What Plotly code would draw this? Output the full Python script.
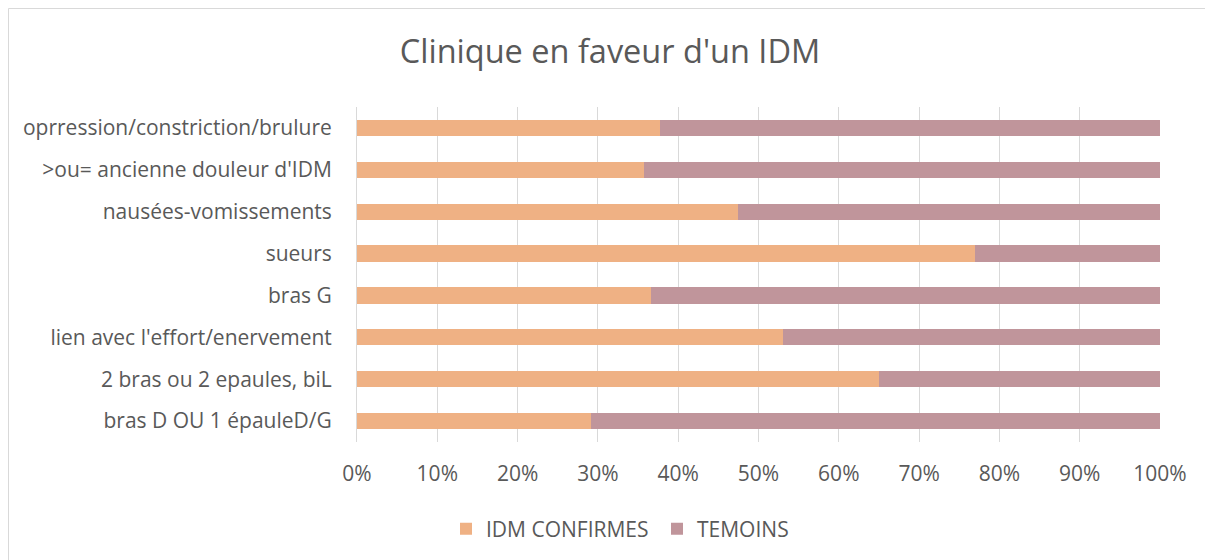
import plotly.graph_objects as go

categories = [
    "bras D OU 1 épauleD/G",
    "2 bras ou 2 epaules, biL",
    "lien avec l'effort/enervement",
    "bras G",
    "sueurs",
    "nausées-vomissements",
    ">ou= ancienne douleur d'IDM",
    "oprression/constriction/brulure",
]
idm_confirmes = [29.1, 65.0, 53.0, 36.6, 76.9, 47.4, 35.7, 37.7]
temoins = [70.9, 35.0, 47.0, 63.4, 23.1, 52.6, 64.3, 62.3]
x_ticks = [0, 10, 20, 30, 40, 50, 60, 70, 80, 90, 100]
x_tick_labels = [f"{v}%" for v in x_ticks]

# page body has an 8px margin; figure coordinates are page coordinates minus 8
W, H = 1205, 552
L, R, T, B = 349, 1152, 99, 434
pw = R - L
ph = B - T

font_family = "Open Sans, Liberation Sans, sans-serif"
grey = "#595959"

fig = go.Figure()
fig.add_trace(go.Bar(y=categories, x=idm_confirmes, name="IDM CONFIRMES",
                     orientation="h", legend="legend",
                     marker=dict(color="#EFB184", line=dict(width=0))))
fig.add_trace(go.Bar(y=categories, x=temoins, name="TEMOINS",
                     orientation="h", legend="legend2",
                     marker=dict(color="#C0959B", line=dict(width=0))))

legend_common = dict(orientation="h", xanchor="left", yanchor="middle",
                     yref="container", y=1 - 521 / H,
                     font=dict(size=21, color=grey, family=font_family),
                     bgcolor="rgba(0,0,0,0)", itemwidth=30)

fig.update_layout(
    width=W, height=H,
    barmode="stack",
    bargap=0.61,
    paper_bgcolor="white",
    plot_bgcolor="white",
    margin=dict(l=L, r=W - R, t=T, b=H - B, autoexpand=False),
    font=dict(family=font_family, color=grey, size=21),
    title=dict(text="Clinique en faveur d'un IDM", x=602 / W, xanchor="center",
               y=1 - 44 / H, yanchor="middle", yref="container",
               font=dict(size=32.5, color=grey, family=font_family)),
    xaxis=dict(range=[0, 100], tickvals=x_ticks, ticktext=x_tick_labels,
               showgrid=True, gridcolor="#D9D9D9", gridwidth=1,
               zeroline=False, showline=False, ticks="",
               tickfont=dict(size=21, color=grey), ticklabelstandoff=17),
    yaxis=dict(showgrid=False, zeroline=False, showline=True, linecolor="#D9D9D9",
               linewidth=1, ticks="", tickfont=dict(size=21, color=grey),
               ticklabelstandoff=20, categoryorder="array", categoryarray=categories),
    legend=dict(x=(438 - L) / pw, **legend_common),
    legend2=dict(x=(649 - L) / pw, **legend_common),
    showlegend=True,
    shapes=[dict(type="rect", xref="paper", yref="paper",
                 x0=(0.5 - L) / pw, x1=(W + 20 - L) / pw,
                 y0=(B - H - 20) / ph, y1=(B - 0.5) / ph,
                 line=dict(color="#D9D9D9", width=1), fillcolor="rgba(0,0,0,0)",
                 layer="below")],
)

fig.write_html("out.html")
